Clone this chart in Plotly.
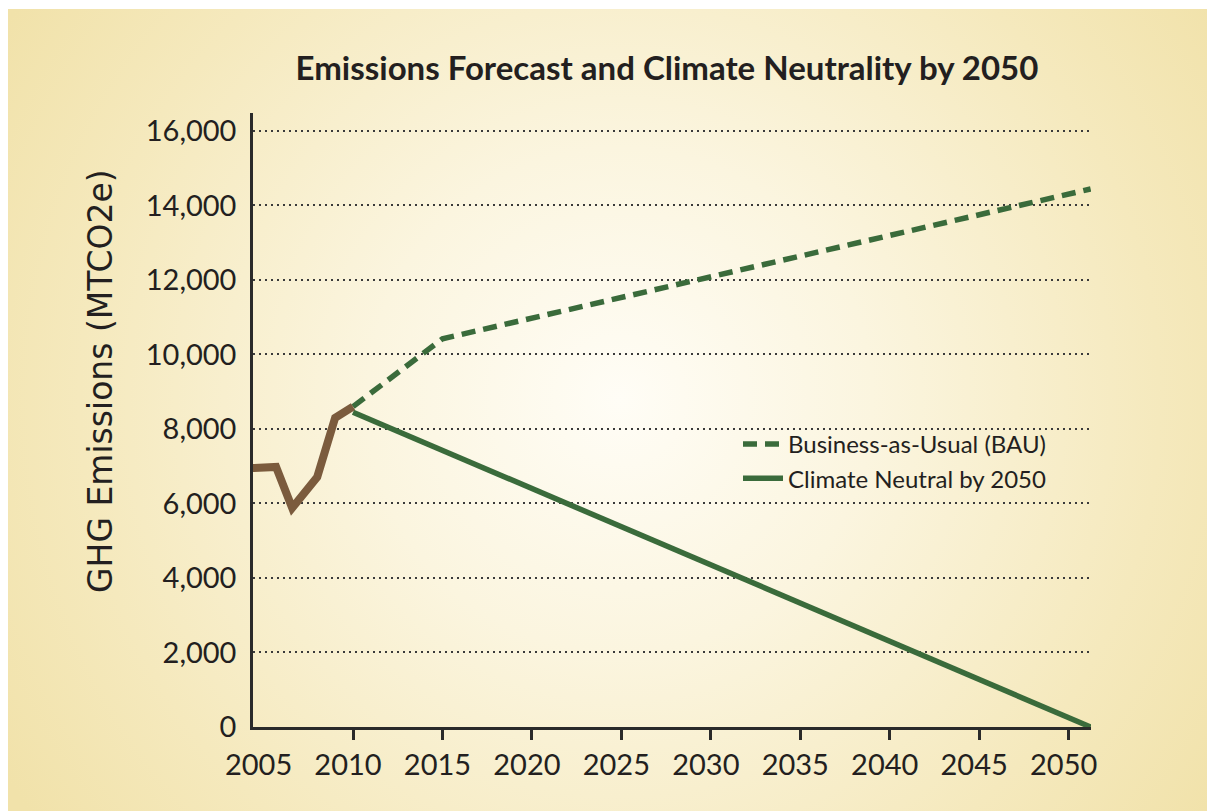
import base64
import plotly.graph_objects as go

# ---- data ----
hist_years = [2004.4, 2005.7, 2006.6, 2008.0, 2009.0, 2010.0]
hist_values = [6950, 6980, 5880, 6710, 8300, 8600]

bau_years = [2010.0, 2015.0, 2051.23]
bau_values = [8600, 10420, 14440]

neutral_years = [2010.0, 2051.23]
neutral_values = [8450, 0]

x_tick_vals = [2005, 2010, 2015, 2020, 2025, 2030, 2035, 2040, 2045, 2050]
x_tick_text = [str(v) for v in x_tick_vals]
x_minor_ticks = [2010, 2015, 2020, 2025, 2030, 2035, 2040, 2045, 2050]
y_tick_vals = [0, 2000, 4000, 6000, 8000, 10000, 12000, 14000, 16000]
y_tick_text = ["0", "2,000", "4,000", "6,000", "8,000", "10,000", "12,000", "14,000", "16,000"]

W, H = 1207, 811
ML, MR, MT, MB = 253, 116, 113, 84
PW, PH = W - ML - MR, H - MT - MB

GREEN = "#3a6b3b"
BROWN = "#7b5b3d"
TEXT = "#231f20"
FONT = "Lato"

svg = f"""<svg xmlns='http://www.w3.org/2000/svg' width='{W}' height='{H}' viewBox='0 0 {W} {H}' preserveAspectRatio='none'>
<defs><radialGradient id='g' cx='620' cy='400' r='720' gradientUnits='userSpaceOnUse'>
<stop offset='0' stop-color='#fffdf6'/>
<stop offset='0.35' stop-color='#fbf5df'/>
<stop offset='0.75' stop-color='#f5e9bd'/>
<stop offset='1' stop-color='#f1e2aa'/>
</radialGradient></defs>
<rect width='{W}' height='{H}' fill='#ffffff'/>
<rect x='8' y='9' width='{W-8}' height='{H-9}' fill='url(#g)'/>
</svg>"""
src = "data:image/svg+xml;base64," + base64.b64encode(svg.encode()).decode()

fig = go.Figure()
fig.add_trace(go.Scatter(x=bau_years, y=bau_values, mode="lines",
                         name="Business-as-Usual (BAU)",
                         line=dict(color=GREEN, width=5.5, dash="14px,8px")))
fig.add_trace(go.Scatter(x=neutral_years, y=neutral_values, mode="lines",
                         name="Climate Neutral by 2050",
                         line=dict(color=GREEN, width=5.5)))
fig.add_trace(go.Scatter(x=hist_years, y=hist_values, mode="lines",
                         showlegend=False,
                         line=dict(color=BROWN, width=8)))

fig.update_layout(
    width=W, height=H,
    margin=dict(l=ML, r=MR, t=MT, b=MB, pad=0),
    paper_bgcolor="#f1e2aa",
    plot_bgcolor="rgba(255,255,255,0.35)",
    font=dict(family=FONT, color=TEXT),
    images=[dict(source=src, xref="paper", yref="paper",
                 x=-ML / PW, y=1 + MT / PH, sizex=W / PW, sizey=H / PH,
                 xanchor="left", yanchor="top", sizing="stretch", layer="below")],
    title=dict(text="<b>Emissions Forecast and Climate Neutrality by 2050</b>",
               x=667 / W, xanchor="center", y=1 - 68 / H, yanchor="middle",
               font=dict(family=FONT, size=33, color=TEXT)),
    legend=dict(x=(738 - ML) / PW, y=(H - MB - 422) / PH, xanchor="left", yanchor="top",
                bgcolor="rgba(0,0,0,0)", font=dict(family=FONT, size=24, color=TEXT),
                tracegroupgap=0, itemwidth=40),
    showlegend=True,
)

fig.update_xaxes(
    range=[2004.41, 2051.25], tickvals=x_tick_vals, ticktext=x_tick_text,
    ticks="", showgrid=False, zeroline=False,
    showline=True, linecolor="#2a2a2a", linewidth=2.5,
    tickfont=dict(family=FONT, size=29, color=TEXT),
    ticklabelshift=-5, ticklabelstandoff=10,
    minor=dict(tickvals=x_minor_ticks, ticks="outside", ticklen=10,
               tickwidth=2.5, tickcolor="#2a2a2a", showgrid=False),
)
fig.update_yaxes(
    range=[0, 16480], tickvals=y_tick_vals, ticktext=y_tick_text,
    ticks="", showgrid=True, gridcolor="#3a3a3a", gridwidth=2, griddash="2px,4px",
    zeroline=False, showline=True, linecolor="#2a2a2a", linewidth=2.5,
    tickfont=dict(family=FONT, size=29, color=TEXT),
    ticklabelstandoff=8,
)

fig.add_annotation(text="GHG Emissions (MTCO2e)", xref="paper", yref="paper",
                   x=(100 - ML) / PW, y=(H - MB - 381) / PH, textangle=-90,
                   showarrow=False, xanchor="center", yanchor="middle",
                   font=dict(family="DejaVu Sans", size=33, color=TEXT))

fig.write_html("out.html", config={"displayModeBar": False},
               post_script="document.body.style.margin='0';")
